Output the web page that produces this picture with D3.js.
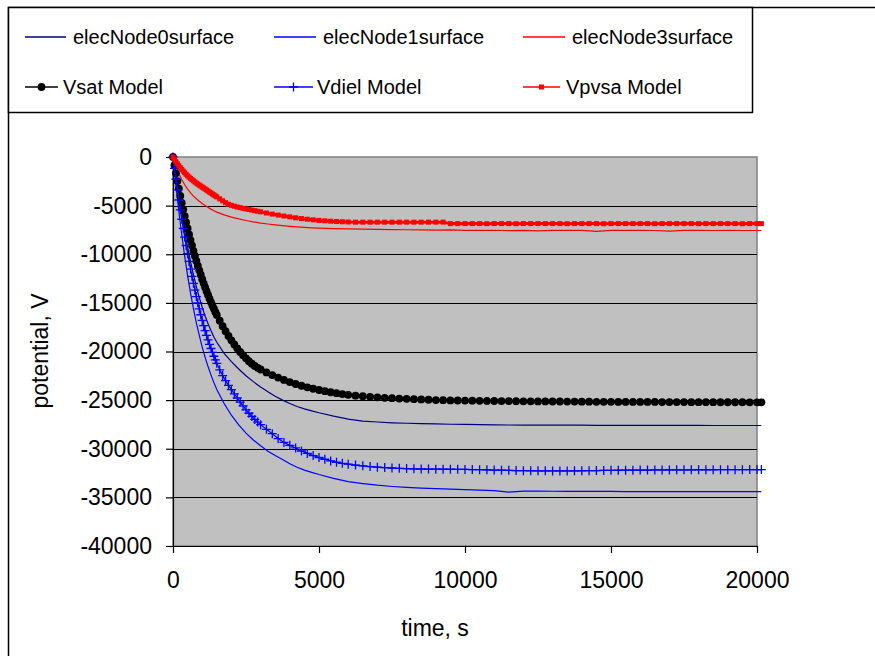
<!DOCTYPE html>
<html>
<head>
<meta charset="utf-8">
<script src="https://cdn.jsdelivr.net/npm/d3@7"></script>
<style>
  body { margin: 0; background: #fff; }
  text { font-family: "Liberation Sans", Arial, sans-serif; fill: #000; }
</style>
</head>
<body>
<svg id="chart"></svg>
<script>
var width = 875;
var height = 656;

// time grids (s)
var modelTime = [].concat(d3.range(0, 1501, 50), d3.range(1600, 3001, 100),
  d3.range(3200, 6001, 200), d3.range(6250, 20001, 250), [20150]);
var thinTime = [].concat(d3.range(0, 1501, 100), d3.range(1750, 5001, 250),
  d3.range(5500, 20001, 500), [20150]);

// measured surfaces (V)
var elecNode0 = [0,-2100,-4100,-5950,-7700,-9300,-10750,-12100,-13350,-14450,-15450,-16350,-17150,-17850,-18500,-19050,
  -20200,-21050,-21800,-22500,-23100,-23650,-24150,-24600,-25000,-25350,-25650,-25900,-26100,-26300,
  -26650,-26950,-27150,-27250,-27330,-27380,-27420,-27450,-27480,-27500,
  -27520,-27540,-27560,-27570,-27570,-27580,-27580,-27580,-27590,-27590,
  -27590,-27600,-27600,-27600,-27600,-27600,-27610,-27610,-27610,-27610, -27610];
var elecNode1 = [0,-2900,-5600,-8000,-10200,-12200,-14000,-15600,-17050,-18350,-19550,-20600,-21550,-22400,-23200,-23900,
  -25350,-26550,-27550,-28400,-29100,-29700,-30250,-30700,-31100,-31550,-31900,-32200,-32430,-32650,
  -33050,-33380,-33580,-33750,-33880,-33980,-34050,-34100,-34150,-34200,
  -34250,-34300,-34450,-34350,-34350,-34370,-34380,-34380,-34390,-34390,
  -34400,-34400,-34400,-34400,-34410,-34400,-34410,-34410,-34410,-34410, -34410];
var elecNode3 = [0,-900,-1700,-2320,-2850,-3300,-3700,-4030,-4300,-4550,-4780,-4990,-5180,-5360,-5520,-5670,
  -5950,-6180,-6370,-6530,-6670,-6790,-6890,-6980,-7060,-7130,-7190,-7240,-7280,-7310,
  -7360,-7390,-7410,-7440,-7460,-7480,-7500,-7520,-7500,-7550,
  -7540,-7530,-7580,-7540,-7600,-7540,-7540,-7550,-7650,-7540,
  -7550,-7550,-7560,-7620,-7550,-7550,-7560,-7550,-7560,-7560, -7560];

// models (V)
var vsat = [0,-850,-1680,-2480,-3250,-3990,-4710,-5400,-6080,-6720,-7350,-7960,-8540,-9100,-9650,-10180,
  -10690,-11180,-11650,-12110,-12560,-12990,-13400,-13800,-14190,-14560,-14920,-15270,-15600,-15930,-16240,
  -16840,-17400,-17920,-18400,-18850,-19280,-19670,-20040,-20380,-20700,-21000,-21250,-21480,-21680,-21850,
  -22150,-22420,-22680,-22920,-23140,-23340,-23520,-23680,-23830,-23960,-24080,-24190,-24290,-24380,-24460,
  -24540,-24600,-24660,-24710,-24760,-24800,-24840,-24870,-24900,-24930,-24960,-24990,-25010,-25030,-25040,-25050,
  -25060,-25070,-25080,-25090,-25100,-25100,-25110,-25120,-25120,-25130,
  -25130,-25140,-25140,-25150,-25150,-25160,-25160,-25170,-25170,-25170,
  -25180,-25180,-25180,-25190,-25190,-25190,-25200,-25200,-25200,-25200,
  -25210,-25210,-25210,-25210,-25220,-25220,-25220,-25220,-25230,-25230, -25230];
var vdiel = [0,-1170,-2290,-3380,-4420,-5430,-6400,-7330,-8230,-9100,-9940,-10740,-11520,-12270,-12990,-13680,
  -14350,-14990,-15620,-16220,-16800,-17330,-17850,-18340,-18810,-19260,-19690,-20100,-20490,-20860,-21220,
  -21880,-22480,-23000,-23480,-23920,-24350,-24780,-25200,-25600,-26000,-26350,-26680,-26980,-27260,-27520,
  -28000,-28450,-28950,-29350,-29650,-29920,-30230,-30480,-30700,-30900,-31080,-31250,-31390,-31500,-31590,
  -31680,-31760,-31830,-31890,-31940,-31980,-32010,-32040,-32060,-32080,-32090,-32100,-32110,-32110,-32120,-32130,
  -32140,-32150,-32170,-32190,-32200,-32220,-32240,-32250,-32260,-32270,
  -32270,-32280,-32280,-32280,-32270,-32260,-32250,-32240,-32230,-32220,
  -32210,-32200,-32200,-32190,-32190,-32180,-32180,-32180,-32170,-32170,
  -32170,-32160,-32160,-32160,-32150,-32150,-32150,-32150,-32140,-32140, -32140];
var vpvsa = [0,-250,-480,-700,-900,-1100,-1280,-1450,-1620,-1780,-1930,-2070,-2200,-2330,-2450,-2570,
  -2680,-2790,-2890,-2990,-3090,-3190,-3290,-3390,-3500,-3600,-3700,-3800,-3900,-4000,-4100,
  -4300,-4500,-4700,-4860,-4970,-5060,-5140,-5210,-5280,-5340,-5400,-5460,-5520,-5580,-5640,
  -5760,-5870,-5970,-6070,-6160,-6250,-6330,-6400,-6460,-6520,-6560,-6600,-6630,-6660,-6680,
  -6700,-6700,-6700,-6700,-6700,-6700,-6700,-6700,-6700,-6700,-6700,-6700,-6700,-6850,-6850,-6850,
  -6850,-6850,-6860,-6850,-6850,-6850,-6860,-6850,-6850,-6850,
  -6850,-6850,-6850,-6860,-6850,-6850,-6850,-6850,-6860,-6850,
  -6850,-6850,-6850,-6850,-6850,-6860,-6850,-6850,-6850,-6850,
  -6850,-6860,-6850,-6850,-6850,-6850,-6850,-6860,-6850,-6850, -6850];

var xTicks = [0, 5000, 10000, 15000, 20000];
var yTicks = [0, -5000, -10000, -15000, -20000, -25000, -30000, -35000, -40000];

var series = [
  {name: "elecNode0surface", t: thinTime, v: elecNode0, color: "#000080", mark: "none"},
  {name: "elecNode1surface", t: thinTime, v: elecNode1, color: "#0000FF", mark: "none"},
  {name: "elecNode3surface", t: thinTime, v: elecNode3, color: "#FF0000", mark: "none"},
  {name: "Vsat Model", t: modelTime, v: vsat, color: "#000000", mark: "dot"},
  {name: "Vdiel Model", t: modelTime, v: vdiel, color: "#0000FF", mark: "plus"},
  {name: "Vpvsa Model", t: modelTime, v: vpvsa, color: "#FF0000", mark: "square"}
];

var plot = {left: 173, right: 757, top: 157, bottom: 546};

var x = d3.scaleLinear().domain([0, 20000]).range([plot.left, plot.right]);
var y = d3.scaleLinear().domain([-40000, 0]).range([plot.bottom, plot.top]);

var svg = d3.select("#chart")
  .attr("width", width)
  .attr("height", height);

// outer chart frame (top + left edges visible)
svg.append("path")
  .attr("d", "M8.5,656V7.5H875")
  .style("fill", "none").style("stroke", "#000").style("stroke-width", 1.5);

// plot area
svg.append("rect")
  .attr("x", plot.left).attr("y", plot.top)
  .attr("width", plot.right - plot.left).attr("height", plot.bottom - plot.top)
  .style("fill", "#C0C0C0").style("stroke", "#808080").style("stroke-width", 1.5);

// gridlines
svg.append("g").selectAll("line")
  .data(yTicks.filter(function(d) { return d > -40000 && d < 0; }))
  .enter().append("line")
  .attr("x1", plot.left).attr("x2", plot.right)
  .attr("y1", function(d) { return Math.round(y(d)) + 0.5; })
  .attr("y2", function(d) { return Math.round(y(d)) + 0.5; })
  .style("stroke", "#000").style("stroke-width", 1.2);

// axes
var xAxis = svg.append("g")
  .attr("transform", "translate(0," + plot.bottom + ")")
  .call(d3.axisBottom(x).tickValues(xTicks).tickSize(7).tickSizeOuter(0).tickPadding(19)
    .tickFormat(d3.format("d")));
var yAxis = svg.append("g")
  .attr("transform", "translate(" + plot.left + ",0)")
  .call(d3.axisLeft(y).tickValues(yTicks).tickSize(7).tickSizeOuter(0).tickPadding(14)
    .tickFormat(function(d) { return String(d); }));
[xAxis, yAxis].forEach(function(a) {
  a.selectAll("text").style("font-size", "23px").style("font-family", "Liberation Sans, Arial, sans-serif");
  a.selectAll("line, path").style("stroke", "#000").style("stroke-width", 1.2);
});

// axis titles
svg.append("text")
  .attr("x", 435).attr("y", 636)
  .attr("text-anchor", "middle")
  .style("font-size", "23px")
  .text("time, s");
svg.append("text")
  .attr("transform", "translate(48,351) rotate(-90)")
  .attr("text-anchor", "middle")
  .style("font-size", "23px")
  .text("potential, V");

// series
var line = d3.line()
  .x(function(d) { return x(d[0]); })
  .y(function(d) { return y(d[1]); });

function drawMarker(sel, kind, color) {
  if (kind === "dot") {
    sel.append("circle").attr("r", 3.9).style("fill", color);
  } else if (kind === "plus") {
    sel.append("path").attr("d", "M-4.5,0H4.5M0,-4.5V4.5")
      .style("stroke", color).style("stroke-width", 1.3).style("fill", "none");
  } else if (kind === "square") {
    sel.append("rect").attr("x", -2.5).attr("y", -2.5).attr("width", 5).attr("height", 5)
      .style("fill", color);
  }
}

series.forEach(function(s) {
  var pts = s.t.map(function(t, i) { return [t, s.v[i]]; });
  var g = svg.append("g");
  g.append("path")
    .datum(pts)
    .attr("d", line)
    .style("fill", "none")
    .style("stroke", s.color)
    .style("stroke-width", s.mark === "square" ? 3 : 1.2);
  if (s.mark !== "none") {
    g.selectAll("g.m")
      .data(pts)
      .enter().append("g")
      .attr("class", "m")
      .attr("transform", function(d) { return "translate(" + x(d[0]) + "," + y(d[1]) + ")"; })
      .call(drawMarker, s.mark, s.color);
  }
});

// legend
var legendPos = [
  {x1: 25, x2: 66, tx: 73, y: 37},
  {x1: 274, x2: 316, tx: 323, y: 37},
  {x1: 523, x2: 565, tx: 572, y: 37},
  {x1: 25, x2: 58, tx: 63, y: 87},
  {x1: 274, x2: 313, tx: 317, y: 87},
  {x1: 523, x2: 560, tx: 566, y: 87}
];
var legend = svg.append("g");
legend.append("rect")
  .attr("x", 8.5).attr("y", 7.5).attr("width", 744).attr("height", 105)
  .style("fill", "#fff").style("stroke", "#000").style("stroke-width", 1.5);

series.forEach(function(s, i) {
  var p = legendPos[i];
  var g = legend.append("g");
  g.append("line")
    .attr("x1", p.x1).attr("x2", p.x2).attr("y1", p.y).attr("y2", p.y)
    .style("stroke", s.color).style("stroke-width", 1.3);
  if (s.mark !== "none") {
    g.append("g")
      .attr("transform", "translate(" + ((p.x1 + p.x2) / 2) + "," + p.y + ")")
      .call(drawMarker, s.mark === "square" ? "square" : s.mark, s.color);
  }
  g.append("text")
    .attr("x", p.tx).attr("y", p.y)
    .attr("dy", "0.35em")
    .style("font-size", "20px")
    .text(s.name);
});
</script>
</body>
</html>
